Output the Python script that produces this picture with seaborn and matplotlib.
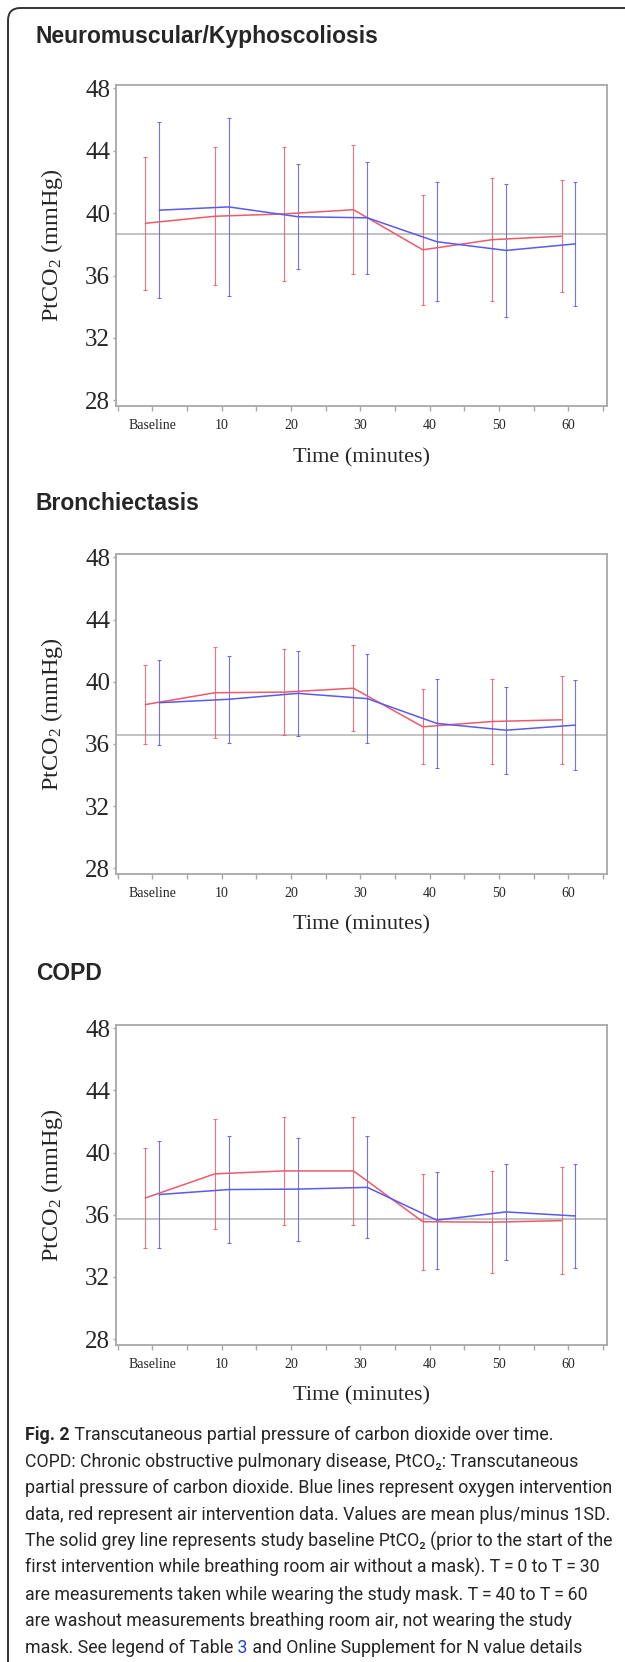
import numpy as np
import pandas as pd
import matplotlib
matplotlib.use("Agg")
import matplotlib.pyplot as plt
import matplotlib.font_manager as fm
from matplotlib.patches import FancyBboxPatch
import seaborn as sns

# --- DATA (mean and 1SD) ---
times = ["Baseline", "10", "20", "30", "40", "50", "60"]
panel_titles = ["Neuromuscular/Kyphoscoliosis", "Bronchiectasis", "COPD"]

nm_air_mean = [39.35, 39.80, 39.95, 40.22, 37.65, 38.30, 38.52]
nm_air_sd = [4.27, 4.41, 4.27, 4.12, 3.52, 3.94, 3.60]
nm_o2_mean = [40.19, 40.40, 39.77, 39.70, 38.17, 37.61, 38.03]
nm_o2_sd = [5.66, 5.71, 3.38, 3.60, 3.81, 4.24, 3.99]
nm_ref = 38.66

br_air_mean = [38.53, 39.29, 39.33, 39.58, 37.10, 37.44, 37.55]
br_air_sd = [2.55, 2.94, 2.77, 2.78, 2.40, 2.72, 2.84]
br_o2_mean = [38.65, 38.87, 39.25, 38.91, 37.32, 36.88, 37.21]
br_o2_sd = [2.74, 2.79, 2.71, 2.88, 2.87, 2.79, 2.87]
br_ref = 36.60

copd_air_mean = [37.08, 38.63, 38.82, 38.82, 35.55, 35.52, 35.62]
copd_air_sd = [3.22, 3.52, 3.50, 3.46, 3.10, 3.27, 3.42]
copd_o2_mean = [37.30, 37.62, 37.65, 37.76, 35.65, 36.18, 35.92]
copd_o2_sd = [3.45, 3.46, 3.32, 3.28, 3.13, 3.10, 3.36]
copd_ref = 35.72

caption_lines = [
    "Transcutaneous partial pressure of carbon dioxide over time.",
    "COPD: Chronic obstructive pulmonary disease, PtCO\u2082: Transcutaneous",
    "partial pressure of carbon dioxide. Blue lines represent oxygen intervention",
    "data, red represent air intervention data. Values are mean plus/minus 1SD.",
    "The solid grey line represents study baseline PtCO\u2082 (prior to the start of the",
    "first intervention while breathing room air without a mask). T\u2009=\u20090 to T\u2009=\u200930",
    "are measurements taken while wearing the study mask. T\u2009=\u200940 to T\u2009=\u200960",
    "are washout measurements breathing room air, not wearing the study",
    "mask. See legend of Table",
]

# --- STYLE ---
sns.set_theme(style="white")
plt.rcParams["font.family"] = ["Liberation Serif", "DejaVu Serif"]
plt.rcParams["mathtext.fontset"] = "custom"
plt.rcParams["mathtext.rm"] = "Liberation Serif"
plt.rcParams["mathtext.it"] = "Liberation Serif:italic"

RED = "#ec5b6b"
BLUE = "#5a5aec"
GREY = "#a8a8a8"
REF = "#bdbdbd"

# caption font: narrow sans if present, otherwise Roboto
names = [f.name for f in fm.fontManager.ttflist]
cap_font = ["Liberation Sans Narrow"] if "Liberation Sans Narrow" in names else ["Roboto"]
cap_font = cap_font + ["DejaVu Sans"]

W, H = 625, 1662
fig = plt.figure(figsize=(W / 100, H / 100), dpi=100)
fig.patch.set_facecolor("white")

# outer frame (runs off the right and bottom edges)
frame = FancyBboxPatch((8 / W, -0.05), 1.2, 1.05 - 8 / H,
                       boxstyle="round,pad=0,rounding_size=0.02",
                       transform=fig.transFigure, fill=False,
                       edgecolor="#333333", lw=1.4, mutation_aspect=W / H)
fig.patches.append(frame)

# panel geometry in pixels
L, R = 115.6, 606.6
YLIM = (27.64, 48.21)
y48_px = [88.3, 557.3, 1028.3]
y28_px = [400.4, 868.3, 1339.0]
title_base = [42.7, 510.0, 980.0]

data = [
    (nm_air_mean, nm_air_sd, nm_o2_mean, nm_o2_sd, nm_ref),
    (br_air_mean, br_air_sd, br_o2_mean, br_o2_sd, br_ref),
    (copd_air_mean, copd_air_sd, copd_o2_mean, copd_o2_sd, copd_ref),
]
offsets = {"Air": -0.1, "Oxygen": 0.1}
colors = {"Air": RED, "Oxygen": BLUE}

for i, (am, asd, om, osd, ref) in enumerate(data):
    ppu = (y28_px[i] - y48_px[i]) / 20
    top = y48_px[i] - (YLIM[1] - 48) * ppu
    bot = y28_px[i] + (28 - YLIM[0]) * ppu
    ax = fig.add_axes([L / W, 1 - bot / H, (R - L) / W, (bot - top) / H])

    df = pd.DataFrame({
        "time": times * 2,
        "idx": list(range(7)) * 2,
        "group": ["Air"] * 7 + ["Oxygen"] * 7,
        "mean": am + om,
        "sd": asd + osd,
    })
    df["xpos"] = df["idx"] + df["group"].map(offsets)

    # study baseline, means and +/-1SD bars
    ax.axhline(ref, color=REF, lw=1.3, zorder=1)
    sns.lineplot(data=df, x="xpos", y="mean", hue="group", palette=colors,
                 estimator=None, lw=1.1, legend=False, ax=ax, zorder=3)
    for g, sub in df.groupby("group"):
        ax.errorbar(sub["xpos"], sub["mean"], yerr=sub["sd"], fmt="none",
                    ecolor=colors[g], elinewidth=0.8, capsize=1.3,
                    capthick=0.8, alpha=0.85, zorder=2)

    ax.set_xlim(-0.53, 6.55)
    ax.set_ylim(*YLIM)
    ax.set_xticks(range(7))
    ax.set_xticklabels(times, fontsize=10)
    ax.set_xticks(np.arange(-0.5, 7, 1), minor=True)
    ax.set_yticks(range(28, 49, 4))
    ax.set_yticklabels([str(v) for v in range(28, 49, 4)], fontsize=18)
    ax.tick_params(axis="x", which="both", direction="out", length=3.6,
                   width=1, color=GREY, pad=6, bottom=True)
    ax.tick_params(axis="y", direction="out", length=2.2, width=1,
                   color=GREY, pad=1.8, left=True)
    for s in ax.spines.values():
        s.set_color(GREY)
        s.set_linewidth(1.3)

    ax.set_xlabel("Time (minutes)", fontsize=16)
    ax.set_ylabel(r"PtCO$_{\rm 2}$ (mmHg)", fontsize=17.5)
    ax.xaxis.label.set_va("center")
    ax.yaxis.label.set_va("center")
    axh = bot - top
    ax.xaxis.set_label_coords(0.5, -(y28_px[i] + 57 - bot) / axh)
    ax.yaxis.set_label_coords((52 - L) / (R - L), 0.5)

    fig.text(35.9 / W, 1 - title_base[i] / H, panel_titles[i],
             family=["Liberation Sans", "DejaVu Sans"], weight="bold",
             fontsize=16.5, va="baseline", ha="left")

# --- CAPTION ---
fig.canvas.draw()
renderer = fig.canvas.get_renderer()

# fit the font size so the longest line spans the same width as the original
probe = fig.text(0, 0, caption_lines[2], family=cap_font, fontsize=12)
size = 12 * 584 / probe.get_window_extent(renderer).width
probe.remove()

x0 = 25.1
for k, line in enumerate(caption_lines):
    yb = 1 - (1440 + 26.6 * k) / H
    if k == 0:
        t = fig.text(x0 / W, yb, "Fig. 2", family=cap_font, weight="bold",
                     fontsize=size, va="baseline")
        w = t.get_window_extent(renderer).width
        fig.text((x0 + w) / W, yb, " " + line, family=cap_font,
                 fontsize=size, va="baseline")
    elif k == len(caption_lines) - 1:
        t = fig.text(x0 / W, yb, line, family=cap_font, fontsize=size,
                     va="baseline")
        w = t.get_window_extent(renderer).width
        t2 = fig.text((x0 + w) / W, yb, " 3", family=cap_font, fontsize=size,
                      va="baseline", color="#2443d6")
        w2 = t2.get_window_extent(renderer).width
        fig.text((x0 + w + w2) / W, yb,
                 " and Online Supplement for N value details",
                 family=cap_font, fontsize=size, va="baseline")
    else:
        fig.text(x0 / W, yb, line, family=cap_font, fontsize=size,
                 va="baseline")

fig.savefig("out.png", dpi=100, facecolor="white")
